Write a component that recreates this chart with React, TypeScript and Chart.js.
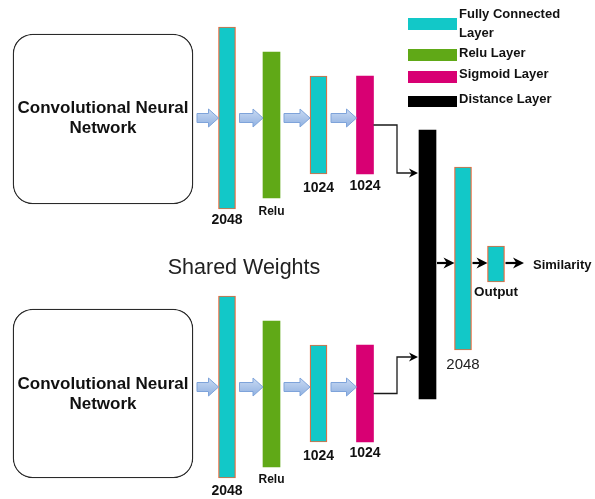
import { useEffect, useRef } from 'react';
import { Chart, registerables } from 'chart.js';

Chart.register(...registerables);

const W = 595;
const H = 499;

// Siamese branch layers (same stack in both branches)
const branchLayerKinds = ['fc', 'relu', 'fc', 'sigmoid'];
const branchLayerLabels = ['2048', 'Relu', '1024', '1024'];
const branchLayerX = [227, 271.5, 318.5, 365];
const topBranchSpans = [[27, 209], [52, 198], [76, 174], [76, 174]];
const bottomBranchSpans = [[296, 478], [321, 467], [345, 442], [345, 442]];
const topLabelY = [220, 212, 188, 186];
const bottomLabelY = [491, 480, 456, 453];

// CNN blocks
const cnnBoxX = 103;
const cnnBoxSpans = [[34, 204], [309, 478]];
const cnnTextLines = ['Convolutional Neural', 'Network'];
const cnnTextY = [[108, 128], [384, 404]];
const branchArrowY = [118, 387];

// Head of the network
const headKinds = ['distance', 'fc', 'fc'];
const headLabels = ['', '2048', 'Output'];
const headX = [427.5, 463, 496];
const headSpans = [[130, 399], [167, 350], [246, 282]];
const headLabelY = [0, 365, 292];
const headArrowY = 263;
const outputLabel = 'Similarity';
const outputArrowEndX = 524;

// Connectors from each branch to the distance layer
const connectorBendX = 397;
const connectorEntryY = [173, 357];

// Legend
const legendKinds = ['fc', 'relu', 'sigmoid', 'distance'];
const legendLines = [['Fully Connected', 'Layer'], ['Relu Layer'], ['Sigmoid Layer'], ['Distance Layer']];
const legendSwatchY = [[18, 30], [49, 61], [71, 83], [96, 107]];
const legendTextY = [[14, 33], [53], [74], [99]];
const legendSwatchX = [408, 457];
const legendTextX = 459;

const sharedWeightsText = 'Shared Weights';
const sharedWeightsPos = [244, 268];

const BAR_W = 17;
const kindStyle: Record<string, { bg: string; border: string; bw: number }> = {
  fc: { bg: '#12C8C8', border: '#E8683A', bw: 1.2 },
  relu: { bg: '#60A917', border: '#60A917', bw: 0 },
  sigmoid: { bg: '#D80073', border: '#D80073', bw: 0 },
  distance: { bg: '#000000', border: '#000000', bw: 0 },
};

const FONT = "'Liberation Sans', Arial, sans-serif";

function buildData() {
  const datasets: any[] = [];
  datasets.push({
    type: 'bar',
    label: 'cnn',
    data: cnnBoxSpans.map((s) => ({ x: cnnBoxX, y: s })),
    backgroundColor: '#ffffff',
    borderColor: '#2a2a2a',
    borderWidth: 1.3,
    borderRadius: 20,
    borderSkipped: false,
    barThickness: 180,
    grouped: false,
    order: 5,
  });
  Object.keys(kindStyle).forEach((kind) => {
    const pts: any[] = [];
    branchLayerKinds.forEach((k, i) => {
      if (k === kind) {
        pts.push({ x: branchLayerX[i], y: topBranchSpans[i] });
        pts.push({ x: branchLayerX[i], y: bottomBranchSpans[i] });
      }
    });
    headKinds.forEach((k, i) => {
      if (k === kind) pts.push({ x: headX[i], y: headSpans[i] });
    });
    const st = kindStyle[kind];
    datasets.push({
      type: 'bar',
      label: kind,
      data: pts,
      backgroundColor: st.bg,
      borderColor: st.border,
      borderWidth: st.bw,
      borderSkipped: false,
      barThickness: BAR_W,
      grouped: false,
      order: 4,
    });
  });
  const half = BAR_W / 2;
  const sigIdx = branchLayerKinds.indexOf('sigmoid');
  [topBranchSpans, bottomBranchSpans].forEach((spans, b) => {
    const sy = (spans[sigIdx][0] + spans[sigIdx][1]) / 2;
    datasets.push({
      type: 'line',
      label: 'connector' + b,
      data: [
        { x: branchLayerX[sigIdx] + half, y: sy },
        { x: connectorBendX, y: sy },
        { x: connectorBendX, y: connectorEntryY[b] },
        { x: headX[0] - half - 4, y: connectorEntryY[b] },
      ],
      borderColor: '#1a1a1a',
      borderWidth: 1.3,
      pointRadius: 0,
      tension: 0,
      fill: false,
      arrowHead: { tip: headX[0] - half - 1, len: 9, w: 9 },
      order: 1,
    });
  });
  const headEnds = [
    [headX[0] + half, headX[1] - half],
    [headX[1] + half, headX[2] - half],
    [headX[2] + half, outputArrowEndX],
  ];
  headEnds.forEach((e, i) => {
    datasets.push({
      type: 'line',
      label: 'merge' + i,
      data: [
        { x: e[0] + 1, y: headArrowY },
        { x: e[1] - 5, y: headArrowY },
      ],
      borderColor: '#000',
      borderWidth: 2.2,
      pointRadius: 0,
      fill: false,
      arrowHead: { tip: e[1], len: 11, w: 11 },
      order: 1,
    });
  });
  return { datasets };
}

function drawBlockArrow(ctx: CanvasRenderingContext2D, x0: number, x1: number, y: number) {
  const shaftH = 4.5;
  const headH = 9;
  const headL = 10;
  const hx = x1 - headL;
  const g = ctx.createLinearGradient(0, y - headH, 0, y + headH);
  g.addColorStop(0, '#C9DAF3');
  g.addColorStop(1, '#8FB0E0');
  ctx.beginPath();
  ctx.moveTo(x0, y - shaftH);
  ctx.lineTo(hx, y - shaftH);
  ctx.lineTo(hx, y - headH);
  ctx.lineTo(x1, y);
  ctx.lineTo(hx, y + headH);
  ctx.lineTo(hx, y + shaftH);
  ctx.lineTo(x0, y + shaftH);
  ctx.closePath();
  ctx.fillStyle = g;
  ctx.fill();
  ctx.strokeStyle = '#7EA3DA';
  ctx.lineWidth = 1;
  ctx.stroke();
}

function drawArrowHead(ctx: CanvasRenderingContext2D, tip: number, y: number, len: number, w: number) {
  ctx.beginPath();
  ctx.moveTo(tip, y);
  ctx.lineTo(tip - len, y - w / 2);
  ctx.lineTo(tip - len * 0.7, y);
  ctx.lineTo(tip - len, y + w / 2);
  ctx.closePath();
  ctx.fillStyle = '#000';
  ctx.fill();
}

function text(ctx: CanvasRenderingContext2D, s: string, x: number, y: number, font: string, align: CanvasTextAlign = 'center', color = '#111') {
  ctx.font = font;
  ctx.textAlign = align;
  ctx.textBaseline = 'middle';
  ctx.fillStyle = color;
  ctx.fillText(s, x, y);
}

const decorPlugin = {
  id: 'diagramDecor',
  afterDatasetsDraw(chart: any) {
    const ctx: CanvasRenderingContext2D = chart.ctx;
    const sx = (v: number) => chart.scales.x.getPixelForValue(v);
    const sy = (v: number) => chart.scales.y.getPixelForValue(v);
    ctx.save();

    // arrowheads for line datasets
    chart.data.datasets.forEach((ds: any) => {
      if (ds.arrowHead) {
        const last = ds.data[ds.data.length - 1];
        drawArrowHead(ctx, sx(ds.arrowHead.tip), sy(last.y), ds.arrowHead.len, ds.arrowHead.w);
      }
    });

    // block arrows inside each branch
    const half = BAR_W / 2;
    branchArrowY.forEach((ay) => {
      const starts = [cnnBoxX + 90, ...branchLayerX.slice(0, -1).map((x) => x + half)];
      const ends = branchLayerX.map((x) => x - half);
      starts.forEach((s, i) => drawBlockArrow(ctx, sx(s + 4), sx(ends[i]), sy(ay)));
    });

    // CNN text
    cnnTextY.forEach((ys) => {
      ys.forEach((y, j) => text(ctx, cnnTextLines[j], sx(cnnBoxX), sy(y), `bold 17px ${FONT}`));
    });

    // branch labels
    branchLayerLabels.forEach((lab, i) => {
      const f = lab === 'Relu' ? `bold 12px ${FONT}` : `bold 14px ${FONT}`;
      text(ctx, lab, sx(branchLayerX[i]), sy(topLabelY[i]), f);
      text(ctx, lab, sx(branchLayerX[i]), sy(bottomLabelY[i]), f);
    });

    // head labels
    headLabels.forEach((lab, i) => {
      if (!lab) return;
      const f = lab === 'Output' ? `bold 13.5px ${FONT}` : `15px ${FONT}`;
      text(ctx, lab, sx(headX[i]), sy(headLabelY[i]), f, 'center', lab === 'Output' ? '#111' : '#222');
    });
    text(ctx, outputLabel, sx(outputArrowEndX + 9), sy(headArrowY + 2), `bold 13px ${FONT}`, 'left');

    // shared weights
    text(ctx, sharedWeightsText, sx(sharedWeightsPos[0]), sy(sharedWeightsPos[1]), `21.5px ${FONT}`, 'center', '#222');

    // legend
    legendKinds.forEach((k, i) => {
      const st = kindStyle[k];
      const x0 = sx(legendSwatchX[0]);
      const x1 = sx(legendSwatchX[1]);
      const y0 = sy(legendSwatchY[i][0]);
      const y1 = sy(legendSwatchY[i][1]);
      ctx.fillStyle = st.bg;
      ctx.fillRect(x0, y0, x1 - x0, y1 - y0);
      legendLines[i].forEach((ln, j) => {
        text(ctx, ln, sx(legendTextX), sy(legendTextY[i][j]), `bold 13px ${FONT}`, 'left');
      });
    });

    ctx.restore();
  },
};

export default function App() {
  const ref = useRef<HTMLCanvasElement | null>(null);
  useEffect(() => {
    if (!ref.current) return;
    const chart = new Chart(ref.current, {
      type: 'bar',
      data: buildData() as any,
      options: {
        animation: false,
        responsive: false,
        maintainAspectRatio: false,
        layout: { padding: 0 },
        scales: {
          x: { type: 'linear', min: 0, max: W, display: false, offset: false, grid: { offset: false } } as any,
          y: { type: 'linear', min: 0, max: H, reverse: true, display: false, beginAtZero: false },
        },
        plugins: {
          legend: { display: false },
          tooltip: { enabled: false },
        },
      },
      plugins: [decorPlugin],
    });
    return () => chart.destroy();
  }, []);
  return (
    <div style={{ position: 'fixed', left: 0, top: 0, width: W, height: H, background: '#fff' }}>
      <canvas ref={ref} width={W} height={H} style={{ display: 'block', width: W, height: H }} />
    </div>
  );
}
